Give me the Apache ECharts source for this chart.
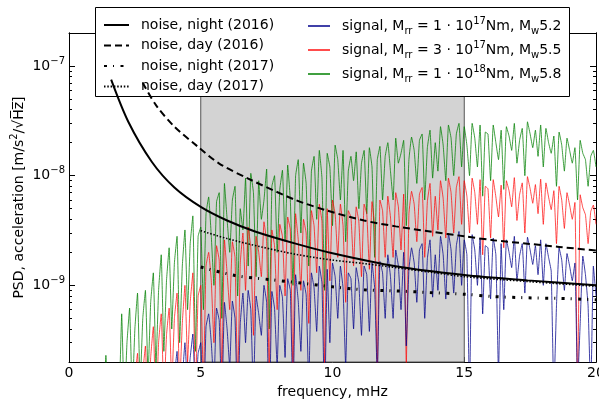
<!DOCTYPE html>
<html lang="en">
<head>
<meta charset="UTF-8">
<script src="https://cdn.jsdelivr.net/npm/echarts@6/dist/echarts.min.js"></script>
<title>PSD</title>
<style>
  html, body { margin: 0; padding: 0; background: #fff; }
  main { width: 599px; height: 407px; }
</style>
</head>
<body>
<main></main>
<script>
  // PSD values in units of 1e-9 m/s^2/sqrt(Hz)
  // signals are sampled from fStart in steps of fStep (mHz)
  const fStart = 1.0
  const fStep = 0.1

  const greenPsd = [
    0.05, 0.06, 0.05, 0.08, 0.23, 0.07, 0.06, 0.09, 0.12, 0.1,
    0.55, 0.08, 0.3, 0.62, 0.1, 0.4, 0.85, 0.12, 0.5, 0.9,
    0.15, 0.7, 1.3, 0.18, 0.9, 1.9, 0.25, 1.1, 2.2, 0.4,
    1.6, 2.8, 0.3, 1.5, 3.2, 0.6, 2.4, 4.3, 0.25, 2.8,
    3.4, 0.6, 4.5, 6.4, 2.8, 1.0, 5.8, 7.0, 0.5, 8.5,
    4.0, 2.0, 6.0, 8.0, 0.8, 5.0, 3.2, 9.5, 1.5, 10.5,
    7.0, 1.2, 9.0, 4.0, 6.0, 11.5, 0.4, 8.0, 10, 2.0,
    7.5, 11.2, 2.5, 12.5, 6.0, 1.0, 10, 14, 3.0, 13,
    8.5, 1.5, 11, 15, 4.0, 17, 9.5, 0.9, 16, 12,
    3.5, 19, 14, 6.0, 17, 2.5, 11, 15, 9.0, 16.5,
    5.0, 13, 17, 4.5, 18, 12, 1.8, 14, 18.5, 6.0,
    15, 20, 11, 6.0, 22, 13, 16, 21, 3.5, 14,
    22.5, 17, 8.5, 21, 24, 6.0, 18, 26, 9.5, 20,
    11, 28, 19, 9.0, 29, 22, 10, 24, 30, 12,
    28, 19, 10, 30, 22, 12, 29, 6.5, 25, 24,
    9, 29, 20, 14, 26, 7.5, 28, 23, 17, 30,
    13, 21, 27, 10, 31, 24, 18, 26, 15, 29,
    12, 27, 20, 16, 23, 8, 25, 19, 11, 22,
    17, 13, 18, 6, 21, 16, 14, 8, 15, 17,
    12
  ]

  const redPsd = [
    0.02, 0.02, 0.03, 0.03, 0.05, 0.03, 0.02, 0.03, 0.04, 0.04,
    0.1, 0.04, 0.08, 0.15, 0.05, 0.14, 0.24, 0.06, 0.16, 0.28,
    0.06, 0.22, 0.42, 0.07, 0.3, 0.55, 0.1, 0.35, 0.62, 0.12,
    0.5, 0.85, 0.12, 0.45, 1.0, 0.2, 0.7, 1.3, 0.1, 0.8,
    1.0, 0.12, 1.5, 2.0, 1.1, 0.3, 2.3, 1.7, 0.15, 2.6,
    1.3, 0.6, 2.5, 1.8, 0.12, 1.6, 3.0, 0.9, 3.4, 2.2,
    0.35, 2.8, 2.0, 1.2, 3.8, 2.5, 0.15, 3.2, 2.3, 0.6,
    3.6, 2.8, 0.8, 4.2, 3.2, 0.15, 4.5, 2.6, 0.9, 4.0,
    3.0, 0.45, 4.8, 3.5, 1.3, 5.5, 3.8, 0.18, 5.0, 1.1,
    6.0, 4.5, 1.8, 5.5, 3.5, 0.7, 4.8, 4.2, 1.5, 5.2,
    3.8, 1.2, 5.5, 4.5, 1.4, 5.8, 3.5, 0.15, 6.0, 4.8,
    1.8, 6.5, 4.2, 1.8, 7.0, 5.2, 2.1, 6.8, 0.18, 4.5,
    7.2, 5.5, 2.5, 6.8, 7.8, 1.8, 5.8, 8.5, 2.8, 6.5,
    3.2, 9.0, 6.2, 2.7, 9.5, 7.0, 3.0, 7.8, 9.8, 3.6,
    9.0, 6.5, 3.0, 9.5, 7.0, 3.6, 9.2, 1.9, 8.0, 7.6,
    2.7, 9.2, 6.4, 4.2, 8.2, 2.2, 9.0, 7.3, 5.2, 9.6,
    3.9, 6.7, 8.6, 3.0, 9.8, 7.6, 5.6, 8.3, 4.5, 9.3,
    3.6, 8.6, 6.4, 4.9, 7.3, 2.4, 8.0, 6.0, 3.3, 7.0,
    5.4, 4.0, 5.7, 0.1, 6.7, 5.1, 4.4, 2.4, 4.7, 5.4,
    3.6
  ]

  const bluePsd = [
    0.01, 0.01, 0.01, 0.01, 0.02, 0.01, 0.01, 0.01, 0.01, 0.01,
    0.03, 0.02, 0.02, 0.04, 0.02, 0.04, 0.06, 0.03, 0.05, 0.08,
    0.03, 0.07, 0.12, 0.04, 0.09, 0.17, 0.05, 0.1, 0.19, 0.08,
    0.15, 0.25, 0.07, 0.14, 0.3, 0.12, 0.22, 0.36, 0.09, 0.24,
    0.3, 0.06, 0.42, 0.55, 0.3, 0.12, 0.62, 0.48, 0.08, 0.7,
    0.4, 0.18, 0.72, 0.5, 0.07, 0.45, 0.85, 0.3, 0.9, 0.6,
    0.1, 0.8, 0.55, 0.35, 1.0, 0.7, 0.05, 0.88, 0.62, 0.18,
    1.0, 0.78, 0.22, 1.15, 0.9, 0.08, 1.25, 0.72, 0.25, 1.1,
    0.82, 0.12, 1.3, 0.95, 0.38, 1.5, 1.05, 0.07, 1.4, 0.3,
    1.6, 1.2, 0.5, 1.5, 0.95, 0.18, 1.3, 1.15, 0.4, 1.45,
    1.05, 0.35, 1.5, 1.25, 0.38, 1.6, 0.95, 0.14, 1.65, 1.3,
    0.5, 1.9, 1.2, 0.5, 2.1, 1.5, 0.6, 2.0, 0.28, 1.4,
    2.2, 1.6, 0.7, 2.1, 2.4, 0.5, 1.75, 2.6, 0.78, 1.9,
    0.9, 2.8, 1.9, 0.75, 3.0, 2.1, 0.85, 2.3, 3.1, 1.0,
    2.6, 1.9, 0.1, 2.9, 2.1, 1.0, 2.7, 0.55, 2.3, 2.2,
    0.75, 2.7, 1.9, 0.15, 2.4, 0.6, 2.6, 2.0, 1.45, 2.8,
    1.1, 1.85, 2.4, 0.85, 2.75, 2.1, 1.55, 2.3, 1.25, 2.6,
    1.0, 2.4, 1.8, 1.35, 0.1, 0.65, 2.2, 1.7, 0.9, 1.95,
    1.5, 1.1, 1.6, 0.12, 0.45, 1.85, 1.25, 0.65, 0.1, 1.5,
    0.8
  ]

  // noise curves: frequency (mHz) and PSD (1e-9 units)
  const nightFreq16 = [1.6, 2.25, 3.14, 4.0, 5.0, 6.0, 7.06, 8.6, 10.0, 12.4, 15.0, 17.4, 20.0]
  const nightPsd16 = [75, 31, 13.4, 7.8, 5.19, 3.9, 3.1, 2.4, 1.96, 1.49, 1.24, 1.11, 1.0]
  const dayFreq16 = [2.8, 3.3, 4.0, 4.9, 5.7, 6.8, 8.6, 9.8, 11.2, 12.4, 13.7, 15.0, 16.1, 17.4, 18.6, 20.0]
  const dayPsd16 = [70, 44, 28, 18.3, 12.9, 9.4, 6.0, 4.8, 3.9, 3.45, 3.1, 2.8, 2.58, 2.4, 2.24, 2.08]
  const nightFreq17 = [5.0, 6.3, 7.6, 8.8, 10.0, 11.2, 12.4, 13.7, 15.0, 16.1, 17.4, 18.6, 20.0]
  const nightPsd17 = [1.47, 1.23, 1.13, 1.05, 0.97, 0.91, 0.89, 0.86, 0.83, 0.79, 0.77, 0.76, 0.74]
  const dayFreq17 = [5.0, 6.0, 7.3, 8.6, 10.0, 11.2, 12.4, 13.7, 15.0, 17.5, 20.0]
  const dayPsd17 = [3.15, 2.67, 2.24, 1.92, 1.70, 1.58, 1.45, 1.32, 1.20, 1.08, 0.98]

  const bandRange = [5, 15]
  const majorTickVals = [1, 10, 100]
  const minorTickVals = [0.2, 0.3, 0.4, 0.5, 0.6, 0.7, 0.8, 0.9, 2, 3, 4, 5, 6, 7, 8, 9, 20, 30, 40, 50, 60, 70, 80, 90, 200]

  const sigFreq = greenPsd.map((_, i) => +(fStart + fStep * i).toFixed(1))
  const pairs = (xs, ys) => xs.map((x, i) => [x, ys[i]])

  const font = 'DejaVu Sans'
  const supStyle = { fontSize: 10, lineHeight: 10, verticalAlign: 'top', fontFamily: font, color: '#000' }
  const subStyle = { fontSize: 10, lineHeight: 10, verticalAlign: 'bottom', fontFamily: font, color: '#000' }

  const signalLabels = {
    'sig52': '{t|signal, M}{sub|rr}{t| = 1 · 10}{sup|17}{t|Nm, M}{sub|w}{t|5.2}',
    'sig55': '{t|signal, M}{sub|rr}{t| = 3 · 10}{sup|17}{t|Nm, M}{sub|w}{t|5.5}',
    'sig58': '{t|signal, M}{sub|rr}{t| = 1 · 10}{sup|18}{t|Nm, M}{sub|w}{t|5.8}'
  }

  const black = { color: '#000', width: 1 }
  const logAxis = (position, tickLen, ticks, extra) => Object.assign({
    type: 'log', logBase: 10, min: 0.2, max: 200, position,
    axisLine: { show: true, lineStyle: black },
    axisTick: { inside: true, length: tickLen, customValues: ticks, lineStyle: black },
    axisLabel: { show: false },
    splitLine: { show: false }
  }, extra)

  const noise = (name, xs, ys, lineStyle) => ({
    type: 'line', name, data: pairs(xs, ys), smooth: 0.3, symbol: 'none', z: 5,
    lineStyle: Object.assign({ color: '#000' }, lineStyle), itemStyle: { color: '#000' }
  })
  const signal = (name, ys, color, opacity) => ({
    type: 'line', name, data: pairs(sigFreq, ys), smooth: 0.1, symbol: 'none', z: 3,
    lineStyle: { color, width: 1, opacity }, itemStyle: { color }
  })

  const option = {
    animation: false,
    textStyle: { fontFamily: font },
    grid: { left: 69, right: 3, top: 33, bottom: 45, outerBoundsMode: 'none' },
    xAxis: [
      {
        type: 'value', min: 0, max: 20, interval: 5, position: 'bottom',
        name: 'frequency, mHz', nameLocation: 'middle', nameGap: 23, nameMoveOverlap: false,
        nameTextStyle: { fontSize: 14, color: '#000', fontFamily: font },
        axisLine: { show: true, lineStyle: black },
        axisTick: { inside: true, length: 5, lineStyle: black },
        axisLabel: { fontSize: 14, color: '#000', margin: 4, fontFamily: font },
        splitLine: { show: false }
      },
      {
        type: 'value', min: 0, max: 20, interval: 5, position: 'top',
        axisLine: { show: true, lineStyle: black },
        axisTick: { inside: true, length: 5, lineStyle: black },
        axisLabel: { show: false },
        splitLine: { show: false }
      }
    ],
    yAxis: [
      logAxis('left', 6, majorTickVals, {
        name: 'PSD, acceleration [m/s{sup|2}/√H\u0305z\u0305]', nameLocation: 'middle', nameGap: 39.5, nameRotate: 90,
        nameMoveOverlap: false,
        nameTextStyle: { fontSize: 14, lineHeight: 20, color: '#000', fontFamily: font, rich: { sup: supStyle } },
        axisLabel: {
          show: true, margin: 4, customValues: majorTickVals,
          formatter: (v) => '{b|10}{sup|−' + (9 - Math.round(Math.log10(v))) + '}',
          rich: { b: { fontSize: 14, lineHeight: 20, fontFamily: font, color: '#000' }, sup: supStyle }
        }
      }),
      logAxis('left', 3, minorTickVals),
      logAxis('right', 6, majorTickVals),
      logAxis('right', 3, minorTickVals)
    ],
    graphic: {
      elements: [{
        type: 'rect', z: 3, silent: true,
        shape: { x: 95.5, y: 7.5, width: 474, height: 89 },
        style: { fill: '#fff', stroke: '#000', lineWidth: 1 }
      }]
    },
    legend: [
      {
        left: 103, top: 18, orient: 'vertical', padding: 0, itemGap: 6.5,
        itemWidth: 25, itemHeight: 14, selectedMode: false, z: 6,
        itemStyle: { opacity: 0 },
        textStyle: { fontSize: 14, lineHeight: 14, color: '#000', fontFamily: font, padding: [0, 0, 0, 7] },
        data: ['noise, night (2016)', 'noise, day (2016)', 'noise, night (2017)', 'noise, day (2017)']
      },
      {
        left: 307, top: 16, orient: 'vertical', padding: 0, itemGap: 4,
        itemWidth: 22, itemHeight: 14, selectedMode: false, z: 6,
        itemStyle: { opacity: 0 },
        formatter: (name) => signalLabels[name],
        textStyle: {
          fontSize: 14, lineHeight: 20, color: '#000', fontFamily: font, padding: [0, 0, 0, 7],
          rich: { t: { fontSize: 14, lineHeight: 20, fontFamily: font, color: '#000' }, sup: supStyle, sub: subStyle }
        },
        data: ['sig52', 'sig55', 'sig58']
      }
    ],
    series: [
      {
        type: 'line', name: 'band', data: [], z: 1, silent: true,
        markArea: {
          silent: true, label: { show: false },
          itemStyle: { color: '#d3d3d3', borderColor: '#555', borderWidth: 1 },
          data: [[{ xAxis: bandRange[0] }, { xAxis: bandRange[1] }]]
        }
      },
      signal('sig58', greenPsd, '#008000', 0.75),
      signal('sig55', redPsd, '#ff0000', 0.7),
      signal('sig52', bluePsd, '#00008b', 0.75),
      noise('noise, night (2016)', nightFreq16, nightPsd16, { width: 2 }),
      noise('noise, day (2016)', dayFreq16, dayPsd16, { width: 2, type: [7, 4] }),
      noise('noise, night (2017)', nightFreq17, nightPsd17, { width: 3, type: [3, 6, 1, 6.5] }),
      noise('noise, day (2017)', dayFreq17, dayPsd17, { width: 1.6, type: [1.5, 1.8] })
    ]
  }

  const chart = echarts.init(document.getElementsByTagName('main')[0], null, { renderer: 'canvas' })
  chart.setOption(option)
</script>
</body>
</html>
